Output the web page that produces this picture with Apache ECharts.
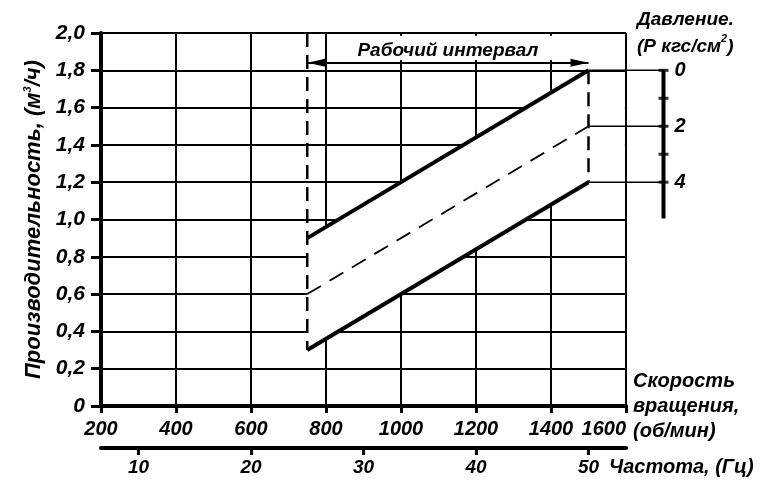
<!DOCTYPE html>
<html>
<head>
<meta charset="utf-8">
<title>Рабочий интервал</title>
<script src="https://cdn.jsdelivr.net/npm/echarts@6/dist/echarts.min.js"></script>
<style>
    html, body { margin: 0; padding: 0; background: #fff; }
    #chart { width: 765px; height: 497px; }
</style>
</head>
<body>
<div id="chart"></div>
<script>

// Data
// ------------------------------

var rpmRange = [200, 1600];
var rpmTicks = [200, 400, 600, 800, 1000, 1200, 1400, 1600];
var hzTicks = [10, 20, 30, 40, 50];
var rpmPerHz = 30;

var workRange = [750, 1500];
var upperLine = [[750, 0.9], [1500, 1.8]];
var middleLine = [[750, 0.6], [1500, 1.5]];
var lowerLine = [[750, 0.3], [1500, 1.2]];

// pressure scale: 0 at 1.8 m3/h, 0.15 m3/h per kgf/cm2
var pressureZeroFlow = 1.8;
var flowPerPressure = 0.15;
var pressureLabels = [0, 2, 4];
var pressureMarks = [0, 1, 2, 3, 4];
var pressureExtent = [0, 5.3];
var pressureAxisRpm = 1700;


// Chart
// ------------------------------

var EchartsWorkRange = function() {

    var family = '"Liberation Sans", Arial, sans-serif';
    var font = function(size) {
        return {
            fontFamily: family,
            fontWeight: 'bold',
            fontStyle: 'italic',
            fontSize: size,
            color: '#000'
        };
    };
    var sup = Object.assign(font(11), { verticalAlign: 'top' });

    var _init = function() {
        var el = document.getElementById('chart');
        var chart = echarts.init(el, null, { renderer: 'canvas' });

        var black = { color: '#000', width: 2 };

        // pressure scale segments: [x1, p1, x2, p2]
        var pressureSegments = [[pressureAxisRpm, pressureExtent[0], pressureAxisRpm, pressureExtent[1]]]
            .concat(pressureLabels.map(function(p) {
                return [workRange[1], p, pressureAxisRpm, p];
            }));

        var options = {
            backgroundColor: '#fff',
            animation: false,
            textStyle: font(20),

            title: {
                text: 'Давление.\n(Р кгс/см{s|2})',
                left: 632,
                top: 1,
                textStyle: Object.assign(font(19), {
                    lineHeight: 27,
                    rich: { s: sup }
                })
            },

            grid: { left: 101, right: 139, top: 33, bottom: 91 },

            xAxis: [
                {
                    type: 'value',
                    min: rpmRange[0],
                    max: rpmRange[1],
                    interval: 100,
                    position: 'bottom',
                    name: 'Скорость\nвращения,\n(об/мин)',
                    nameLocation: 'end',
                    nameGap: 7,
                    nameMoveOverlap: false,
                    nameTextStyle: Object.assign(font(20), {
                        align: 'left',
                        verticalAlign: 'middle',
                        lineHeight: 25,
                        padding: [0, 0, 6, 0]
                    }),
                    axisLine: { onZero: false, lineStyle: { color: '#000', width: 4 } },
                    axisTick: {
                        customValues: rpmTicks,
                        length: 7,
                        lineStyle: { color: '#000', width: 3 }
                    },
                    axisLabel: Object.assign(font(20), {
                        customValues: rpmTicks,
                        margin: 13,
                        alignMaxLabel: 'right',
                        formatter: function(v) { return String(v); }
                    }),
                    splitLine: { show: true, lineStyle: black }
                },
                {
                    type: 'value',
                    min: rpmRange[0] / rpmPerHz,
                    max: rpmRange[1] / rpmPerHz,
                    position: 'bottom',
                    offset: 42,
                    name: 'Частота, (Гц)',
                    nameLocation: 'end',
                    nameGap: -17,
                    nameMoveOverlap: false,
                    nameTextStyle: Object.assign(font(20), {
                        align: 'left',
                        verticalAlign: 'top',
                        padding: [9, 0, 0, 0]
                    }),
                    axisLine: { onZero: false, lineStyle: { color: '#000', width: 4 } },
                    axisTick: {
                        customValues: hzTicks,
                        length: 7,
                        lineStyle: { color: '#000', width: 3 }
                    },
                    axisLabel: Object.assign(font(19), {
                        customValues: hzTicks,
                        margin: 10
                    }),
                    splitLine: { show: false }
                }
            ],

            yAxis: [
                {
                    type: 'value',
                    min: 0,
                    max: 2,
                    interval: 0.2,
                    name: '{a|Производительность, (м}{s|3}{a|/ч)}',
                    nameLocation: 'middle',
                    nameGap: 56,
                    nameRotate: 90,
                    nameTextStyle: { rich: { a: font(22), s: sup } },
                    axisLine: { onZero: false, lineStyle: { color: '#000', width: 4 } },
                    axisTick: { length: 10, lineStyle: { color: '#000', width: 3 } },
                    axisLabel: Object.assign(font(21), {
                        margin: 16,
                        formatter: function(v) {
                            return v === 0 ? '0' : v.toFixed(1).replace('.', ',');
                        }
                    }),
                    splitLine: { show: true, lineStyle: black }
                },
                {
                    type: 'value',
                    position: 'right',
                    offset: 37.5,
                    inverse: true,
                    min: (pressureZeroFlow - 2) / flowPerPressure,
                    max: pressureZeroFlow / flowPerPressure,
                    axisLine: { show: false },
                    axisTick: { show: false },
                    splitLine: { show: false },
                    axisLabel: Object.assign(font(20), {
                        customValues: pressureLabels,
                        margin: 11
                    })
                }
            ],

            series: [
                // white band between the limit lines
                {
                    type: 'custom',
                    silent: true,
                    z: 2,
                    data: [0],
                    renderItem: function(params, api) {
                        var pts = upperLine.concat(lowerLine.slice().reverse()).map(function(p) {
                            return api.coord(p);
                        });
                        return { type: 'polygon', shape: { points: pts }, style: { fill: '#fff' } };
                    }
                },
                // working interval arrow + blank areas
                {
                    type: 'line',
                    data: [],
                    silent: true,
                    z: 3,
                    markArea: {
                        silent: true,
                        itemStyle: { color: '#fff' },
                        data: [
                            [{ coord: [810, 1.855] }, { coord: [1490, 1.985] }],
                            [{ coord: [1500, 1.01] }, { coord: [1597, 1.79] }]
                        ]
                    },
                    markLine: {
                        silent: true,
                        symbol: ['triangle', 'triangle'],
                        symbolSize: [8, 18],
                        symbolOffset: [[0, 9], [0, 9]],
                        lineStyle: { color: '#000', width: 2, type: 'solid' },
                        label: Object.assign(font(19), {
                            position: 'insideMiddleTop',
                            distance: 3,
                            formatter: 'Рабочий интервал'
                        }),
                        data: [[
                            { coord: [workRange[0], 1.84] },
                            { coord: [workRange[1], 1.84] }
                        ]]
                    }
                },
                {
                    type: 'line',
                    symbol: 'none',
                    silent: true,
                    z: 4,
                    lineStyle: { color: '#000', width: 2.5, type: [14, 8] },
                    data: [[workRange[0], 2.0], [workRange[0], lowerLine[0][1]]]
                },
                {
                    type: 'line',
                    symbol: 'none',
                    silent: true,
                    z: 4,
                    lineStyle: { color: '#000', width: 2.5, type: [14, 8] },
                    data: [[workRange[1], upperLine[1][1]], [workRange[1], lowerLine[1][1]]]
                },
                {
                    type: 'line',
                    symbol: 'none',
                    silent: true,
                    z: 5,
                    lineStyle: { color: '#000', width: 4 },
                    data: upperLine
                },
                {
                    type: 'line',
                    symbol: 'none',
                    silent: true,
                    z: 5,
                    lineStyle: { color: '#000', width: 1.8, type: [16, 10] },
                    data: middleLine
                },
                {
                    type: 'line',
                    symbol: 'none',
                    silent: true,
                    z: 5,
                    lineStyle: { color: '#000', width: 4 },
                    data: lowerLine
                },
                // pressure scale: axis line and connectors
                {
                    type: 'custom',
                    xAxisIndex: 0,
                    yAxisIndex: 1,
                    silent: true,
                    clip: false,
                    z: 5,
                    encode: { x: [0, 2], y: [1, 3] },
                    data: pressureSegments,
                    renderItem: function(params, api) {
                        var a = api.coord([api.value(0), api.value(1)]);
                        var b = api.coord([api.value(2), api.value(3)]);
                        var vertical = api.value(0) === api.value(2);
                        return {
                            type: 'line',
                            shape: { x1: a[0], y1: a[1], x2: b[0], y2: b[1] },
                            style: { stroke: '#000', lineWidth: vertical ? 4 : 1.5 }
                        };
                    }
                },
                {
                    type: 'scatter',
                    xAxisIndex: 0,
                    yAxisIndex: 1,
                    clip: false,
                    silent: true,
                    symbol: 'rect',
                    symbolSize: [10, 3],
                    itemStyle: { color: '#000' },
                    z: 6,
                    data: pressureMarks.map(function(p) { return [pressureAxisRpm, p]; })
                }
            ]
        };

        chart.setOption(options);
    };

    return {
        init: function() {
            _init();
        }
    };
}();

document.addEventListener('DOMContentLoaded', function() {
    EchartsWorkRange.init();
});
</script>
</body>
</html>
